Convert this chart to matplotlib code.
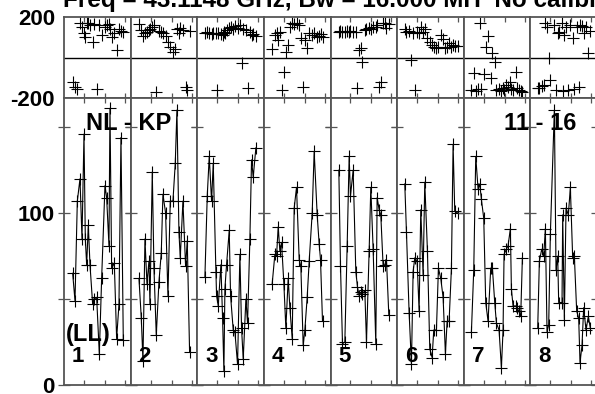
import matplotlib
matplotlib.use("Agg")
import matplotlib.pyplot as plt

plt.rcParams['font.family'] = ['Liberation Sans', 'DejaVu Sans']
plt.rcParams['font.weight'] = 'bold'
plt.rcParams['axes.unicode_minus'] = False

TITLE = "Freq = 43.1148 GHz, Bw = 16.000 MH  No calibration"
BASELINE = "NL - KP"
CHANNELS = "11 - 16"
POL = "(LL)"
PANEL_LABELS = ["1", "2", "3", "4", "5", "6", "7", "8"]

# time within each scan (min), amplitude, phase (deg)
T1 = [1.3, 1.65, 2.0, 2.4, 2.7, 3.0, 3.2, 3.4, 3.65, 3.9, 4.3, 4.55, 4.9, 5.3, 5.65,
      6.15, 6.4, 6.75, 6.9, 7.15, 7.55, 7.9, 8.25, 8.55, 8.9]
A1 = [65, 49, 107, 120, 85, 146, 85, 70, 93, 70, 47, 50, 51, 18, 62,
      116, 109, 81, 161, 68, 71, 27, 47, 144, 26]
P1 = [-119, -148, -157, 172, 150, 119, 99, 172, 169, 160, 78, 165, -157, 160, 111,
      152, 160, 165, 140, 103, 119, 37, 139, 133, 128]

T2 = [1.25, 1.6, 1.85, 2.15, 2.45, 2.75, 2.9, 3.25, 3.5, 3.85, 4.25, 4.6, 4.85, 5.25, 5.6,
      5.95, 6.35, 6.7, 6.95, 7.25, 7.45, 7.85, 8.25, 8.5, 8.85]
A2 = [62, 39, 14, 85, 59, 72, 47, 124, 68, 29, 60, 77, 111, 100, 52,
      107, 107, 129, 160, 89, 74, 107, 69, 84, 19]
P2 = [165, 136, 106, 119, 128, 136, 139, 150, 160, -169, 133, 128, 119, 106, 78,
      53, 29, 40, 139, 120, 144, 135, -144, -160, 130]

T3 = [1.15, 1.5, 1.8, 2.15, 2.4, 2.8, 2.9, 3.15, 3.55, 3.8, 4.0, 4.15, 4.4, 4.8, 5.0,
      5.4, 5.65, 6.05, 6.4, 6.65, 6.9, 7.3, 7.55, 7.9, 8.15, 8.4, 8.8]
A3 = [63, 110, 133, 107, 129, 66, 52, 46, 70, 39, 8, 56, 70, 90, 52,
      32, 31, 12, 76, 33, 15, 50, 36, 85, 131, 121, 138]
P3 = [122, 125, 120, 118, 122, 119, -160, 121, 118, 110, 124, 122, 135, 145, 150,
      140, 155, 148, 160, -29, 140, 135, -152, 128, 111, 118, 108]

T4 = [1.25, 1.65, 1.9, 2.15, 2.4, 2.65, 3.0, 3.3, 3.65, 3.9, 4.25, 4.55, 4.9, 5.3, 5.55,
      5.9, 6.15, 6.5, 6.8, 7.25, 7.55, 8.0, 8.3, 8.5, 8.8]
A4 = [59, 76, 75, 92, 78, 83, 59, 33, 62, 45, 27, 103, 115, 73, 69,
      23, 32, 51, 72, 100, 136, 99, 82, 73, 37]
P4 = [40, 111, 122, 86, 128, -160, -70, 29, 60, 150, 172, 165, 169, 160, 95,
      -148, 86, 45, 119, 111, 119, 103, 108, 115, 100]

T5 = [1.25, 1.5, 1.8, 2.15, 2.5, 2.8, 3.0, 3.4, 3.8, 4.05, 4.3, 4.55, 4.8, 5.15, 5.4,
      5.8, 6.05, 6.4, 6.8, 7.0, 7.3, 7.55, 7.9, 8.15, 8.4, 8.75]
A5 = [125, 69, 24, 25, 81, 133, 110, 125, 66, 57, 52, 54, 53, 55, 25,
      78, 115, 79, 24, 109, 102, 99, 69, 70, 73, 41]
P5 = [128, 130, 126, 128, 130, 127, 129, 126, 128, -152, 37, 45, -21, 136, 140,
      144, 139, 150, 152, 160, -148, -119, 169, 172, 144, 165]

T6 = [1.15, 1.4, 1.8, 2.15, 2.4, 2.65, 3.0, 3.3, 3.55, 3.9, 4.15, 4.55, 4.9, 5.25, 5.5,
      5.9, 6.2, 6.55, 6.9, 7.25, 7.5, 7.8, 8.15, 8.4, 8.65, 9.15]
A6 = [117, 89, 42, 12, 66, 74, 72, 43, 102, 64, 118, 78, 21, 16, 32,
      32, 68, 62, 51, 18, 37, 37, 68, 140, 101, 100]
P6 = [139, 128, 130, -12, 119, -160, 128, 119, 152, 128, 140, 95, 78, 60, 53,
      45, 53, 111, 90, 45, 50, 70, 53, 62, 58, 55]

T7 = [1.15, 1.5, 1.8, 2.15, 2.4, 2.65, 3.0, 3.3, 3.65, 4.05, 4.3, 4.65, 4.9, 5.3, 5.65,
      5.9, 6.05, 6.4, 6.65, 7.0, 7.15, 7.4, 7.8, 8.0, 8.25, 8.55, 8.8]
A7 = [31, 67, 133, 114, 117, 108, 97, 48, 37, 68, 68, 48, 36, 32, 10,
      32, 76, 79, 81, 91, 56, 46, 46, 45, 43, 40, 74]
P7 = [-160, -75, -165, -155, 172, -158, -82, 53, 106, -103, 21, -21, -160, -155, -165,
      -150, -160, -136, -145, -119, -158, -162, -70, -150, -160, -165, -170]

T8 = [1.1, 1.35, 1.7, 2.0, 2.25, 2.5, 2.75, 3.0, 3.6, 3.85, 4.1, 4.25, 4.75, 4.85, 5.1,
      5.35, 5.7, 6.0, 6.35, 6.6, 6.95, 7.25, 7.45, 7.75, 8.0, 8.35, 8.7, 9.0]
A8 = [33, 72, 79, 75, 91, 31, 35, 88, 160, 67, 75, 48, 48, 99, 38,
      103, 99, 115, 74, 75, 43, 39, 13, 23, 45, 32, 40, 33]
P8 = [-152, -150, -140, -136, 169, 152, -4, -111, 160, -160, 119, 125, 169, -165, 111,
      152, -160, 160, 95, -158, 152, -144, 160, 155, 119, 150, 21, 130]

TIMES = [T1, T2, T3, T4, T5, T6, T7, T8]
AMPS = [A1, A2, A3, A4, A5, A6, A7, A8]
PHASES = [P1, P2, P3, P4, P5, P6, P7, P8]

W, H = 595, 394
fig = plt.figure(figsize=(W / 100, H / 100), dpi=100)
gs = fig.add_gridspec(2, 8, left=64 / W, right=597 / W, top=1 - 17 / H, bottom=1 - 385 / H,
                      height_ratios=[81, 287], wspace=0, hspace=0)

frame = '#555555'
mk = dict(marker='+', ms=9, mew=0.8, color='black')

for i in range(8):
    axp = fig.add_subplot(gs[0, i])
    axa = fig.add_subplot(gs[1, i])

    axp.plot(TIMES[i], PHASES[i], ls='none', **mk)
    axp.axhline(0, color='black', lw=1.0)
    axa.plot(TIMES[i], AMPS[i], lw=0.8, **mk)

    axp.set_xlim(0, 10)
    axa.set_xlim(0, 10)
    axp.set_ylim(-200, 200)
    axa.set_ylim(0, 167)

    for ax in (axp, axa):
        for s in ax.spines.values():
            s.set_color(frame)
            s.set_linewidth(1.3)
        ax.set_xticks([3.0, 6.15, 9.15])
        ax.tick_params(axis='x', direction='in', length=3.5, width=0.9, color=frame,
                       top=True, bottom=True, labelbottom=False)

    axp.set_yticks([-200, 200])
    axp.tick_params(axis='y', length=0, pad=6.5, labelsize=16)
    axa.set_yticks([0, 50, 100, 150])
    axa.set_yticklabels(['0', '', '100', ''])
    axa.tick_params(axis='y', direction='inout', length=9, width=0.9, color=frame,
                    left=True, right=True, pad=2, labelsize=16)
    if i > 0:
        axp.tick_params(labelleft=False)
        axa.tick_params(labelleft=False)

    axa.text(0.12, 0.10, PANEL_LABELS[i], transform=axa.transAxes, fontsize=16,
             fontweight='bold', ha='left', va='center')

# labels that cross panel borders go on the figure so no panel hides them
fig.text(86 / W, 1 - 123 / H, BASELINE, fontsize=17, fontweight='bold',
         ha='left', va='center', zorder=10)
fig.text(66 / W, 1 - 334 / H, POL, fontsize=17, fontweight='bold',
         ha='left', va='center', zorder=10)
fig.text(576 / W, 1 - 123 / H, CHANNELS, fontsize=17, fontweight='bold',
         ha='right', va='center', zorder=10)

fig.text(63 / W, 1 - 7.5 / H, TITLE, fontsize=17.5, fontweight='bold',
         ha='left', va='baseline')

fig.savefig('out.png', dpi=100)
